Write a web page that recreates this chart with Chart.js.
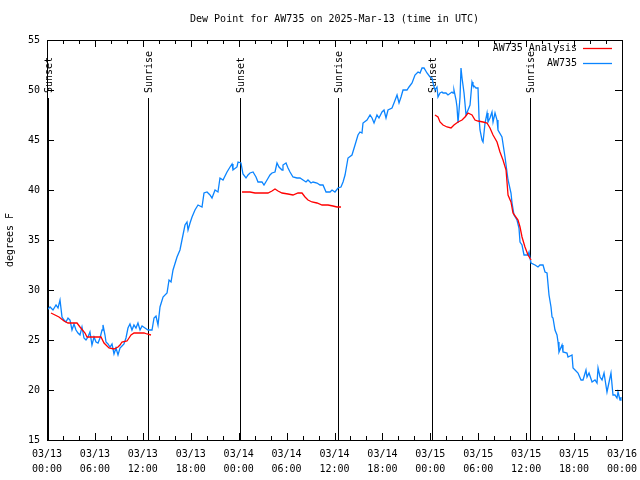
<!DOCTYPE html>
<html>
<head>
<meta charset="utf-8">
<script src="https://cdn.jsdelivr.net/npm/chart.js@4"></script>
<style>
    html, body { margin: 0; padding: 0; background: #fff; }
    #wrap { width: 640px; height: 480px; }
</style>
</head>
<body>
<div id="wrap"><canvas id="dewChart" width="640" height="480"></canvas></div>
<script>
// hours since 03/13 00:00 UTC
var obsHours = [0, 0.38, 0.75, 1.13, 1.38, 1.63, 1.88, 2.13, 2.38, 2.63, 2.88, 3.13, 3.38, 3.63, 3.88, 4.13, 4.38, 4.63, 4.88, 5.13,
    5.38, 5.63, 5.89, 6.14, 6.39, 6.64, 6.89, 7.01, 7.26, 7.39, 7.64, 7.89, 8.14, 8.39, 8.64, 8.89, 9.14, 9.39, 9.64, 9.89,
    10.14, 10.39, 10.64, 10.89, 11.14, 11.39, 11.65, 11.9, 12.27, 12.65, 13.15, 13.4, 13.65, 13.9, 14.15, 14.53, 15.03, 15.28, 15.53, 15.78,
    16.28, 16.65, 16.9, 17.28, 17.53, 17.66, 17.91, 18.16, 18.53, 18.91, 19.41, 19.66, 20.04, 20.41, 20.66, 21.04, 21.41, 21.66, 22.04, 22.54,
    22.92, 23.17, 23.29, 23.79, 23.92, 24.29, 24.54, 24.92, 25.17, 25.42, 25.8, 26.17, 26.42, 26.92, 27.17, 27.55, 27.92, 28.17, 28.55, 28.8,
    29.05, 29.43, 29.55, 29.93, 30.18, 30.43, 30.8, 31.3, 31.68, 32.06, 32.43, 32.68, 33.06, 33.31, 33.81, 34.19, 34.56, 34.94, 35.44, 35.69,
    36.06, 36.44, 36.81, 37.07, 37.32, 37.69, 38.19, 38.57, 38.94, 39.19, 39.44, 39.57, 40.07, 40.45, 40.7, 40.95, 41.32, 41.57, 41.95, 42.2,
    42.45, 42.7, 43.2, 43.45, 43.83, 44.08, 44.33, 44.58, 45.08, 45.33, 45.71, 46.08, 46.46, 46.71, 46.96, 47.21, 47.58, 47.96, 48.21, 48.34,
    48.58, 48.83, 48.96, 49.21, 49.46, 49.59, 49.96, 50.21, 50.71, 50.84, 50.96, 51.22, 51.34, 51.47, 51.72, 51.84, 51.97, 52.22, 52.47, 52.72,
    52.97, 53.22, 53.34, 53.72, 53.97, 54.1, 54.22, 54.47, 54.6, 54.85, 55.1, 55.22, 55.47, 55.72, 55.85, 56.1, 56.35, 56.47, 56.97, 57.35,
    57.73, 58.1, 58.23, 58.48, 58.85, 59.1, 59.23, 59.48, 59.73, 60.23, 60.36, 60.48, 60.61, 61.11, 61.48, 61.73, 62.11, 62.36, 62.61, 62.86,
    63.11, 63.24, 63.36, 63.61, 63.86, 63.99, 64.11, 64.49, 64.61, 65.11, 65.24, 65.74, 65.87, 66.12, 66.49, 66.87, 67.12, 67.49, 67.62, 67.87,
    68.25, 68.62, 68.87, 69.0, 69.25, 69.5, 69.75, 70.12, 70.25, 70.62, 70.87, 71.12, 71.37, 71.5, 71.75, 71.87];
var obsValues = [28.0, 28.3, 28.0, 28.5, 28.2, 29.0, 27.3, 27.0, 26.8, 27.2, 27.0, 26.0, 26.6, 26.0, 25.7, 25.5, 26.3, 25.2, 25.0, 25.3,
    25.8, 24.5, 25.3, 24.8, 24.7, 25.2, 26.0, 26.5, 25.5, 24.8, 24.6, 24.3, 24.6, 23.6, 24.2, 23.5, 24.2, 24.4, 24.6, 25.2,
    26.2, 26.6, 26.0, 26.5, 26.2, 26.7, 26.0, 26.4, 26.2, 26.0, 26.0, 27.2, 27.4, 26.5, 28.3, 29.3, 29.7, 31.0, 30.8, 32.0,
    33.3, 34.0, 35.0, 36.5, 36.8, 36.0, 36.7, 37.3, 38.0, 38.5, 38.3, 39.7, 39.8, 39.5, 39.2, 40.0, 39.8, 41.2, 41.0, 41.8,
    42.3, 42.6, 42.0, 42.3, 42.8, 42.7, 41.6, 41.2, 41.5, 41.7, 41.8, 41.3, 40.8, 40.8, 40.5, 41.0, 41.5, 41.7, 41.8, 42.7,
    42.3, 42.0, 42.5, 42.7, 42.2, 41.8, 41.3, 41.2, 41.2, 41.0, 40.8, 41.0, 40.7, 40.8, 40.7, 40.5, 40.5, 39.8, 39.8, 40.0,
    39.8, 40.2, 40.3, 40.8, 41.5, 43.2, 43.5, 44.5, 45.5, 45.8, 45.7, 46.7, 47.0, 47.5, 47.2, 46.7, 47.5, 47.2, 47.8, 48.0,
    47.2, 48.0, 48.2, 48.7, 49.5, 48.7, 49.3, 50.0, 50.0, 50.3, 50.7, 51.5, 51.8, 51.7, 52.2, 52.2, 51.7, 51.3, 51.2, 50.7,
    50.0, 50.3, 49.3, 49.7, 49.8, 49.7, 49.7, 49.5, 49.8, 49.7, 50.0, 49.0, 48.3, 46.7, 49.3, 52.2, 51.2, 49.7, 47.5, 48.0,
    48.5, 50.8, 50.5, 50.2, 50.2, 47.2, 46.0, 45.0, 44.8, 46.7, 47.7, 46.8, 47.2, 47.8, 46.8, 47.7, 47.0, 46.0, 45.3, 43.3,
    41.0, 39.7, 38.7, 37.5, 37.0, 36.2, 34.8, 34.5, 33.5, 33.5, 33.8, 33.2, 32.7, 32.5, 32.3, 32.5, 32.5, 31.8, 31.7, 29.5,
    28.3, 27.3, 27.2, 26.0, 25.5, 24.8, 23.8, 24.5, 23.8, 23.7, 23.3, 23.5, 22.2, 22.0, 21.7, 21.0, 21.0, 22.0, 21.3, 21.7,
    20.8, 21.0, 20.7, 22.2, 21.3, 21.0, 21.7, 19.8, 20.3, 21.7, 19.5, 19.5, 19.2, 19.8, 19.0, 19.3];

// analysis series, null marks a gap
var anaHours = [0.5, 1.0, 1.5, 2.13, 2.63, 3.76, 4.13, 4.76, 5.01, 6.76, 7.14, 7.76, 8.39, 8.89, 9.14, 9.39, 10.02, 10.27, 10.52, 10.9, 12.15, 12.52, 13.02,
    18.0,
    24.42, 25.42, 26.05, 26.92, 27.67, 28.17, 28.55, 28.93, 29.43, 30.18, 30.8, 31.43, 31.93, 32.31, 32.68, 33.18, 33.81, 34.44, 35.19, 35.81, 36.31, 36.81,
    42.0,
    48.58, 48.96, 49.21, 49.59, 50.09, 50.59, 50.96, 51.47, 51.97, 52.34, 52.72, 53.22, 53.59, 53.97, 54.6, 55.1, 55.47, 55.85, 56.35, 56.72,
    57.1, 57.48, 57.73, 58.1, 58.35, 58.98, 59.23, 59.48, 59.85, 60.23, 60.61];
var anaValues = [27.7, 27.5, 27.3, 26.9, 26.7, 26.7, 26.3, 25.7, 25.3, 25.3, 24.7, 24.2, 24.1, 24.3, 24.5, 24.8, 24.9, 25.2, 25.5, 25.7, 25.7, 25.6, 25.5,
    null,
    39.8, 39.8, 39.7, 39.7, 39.7, 39.9, 40.1, 39.9, 39.7, 39.6, 39.5, 39.7, 39.7, 39.3, 39.0, 38.8, 38.7, 38.5, 38.5, 38.4, 38.3, 38.3,
    null,
    47.5, 47.3, 46.8, 46.5, 46.3, 46.2, 46.5, 46.8, 47.0, 47.3, 47.7, 47.5, 47.0, 46.9, 46.8, 46.7, 46.2, 45.5, 44.8, 43.8,
    43.0, 42.0, 39.5, 38.8, 37.7, 37.0, 36.3, 35.3, 34.3, 33.5, 33.0];

var sunHours = [0.12, 12.65, 24.17, 36.44, 48.21, 60.48];
var sunLabels = ["Sunset", "Sunrise", "Sunset", "Sunrise", "Sunset", "Sunrise"];
var dayLabels = ["03/13", "03/14", "03/15", "03/16"];
var titleText = "Dew Point for AW735 on 2025-Mar-13 (time in UTC)";

var fontFamily = "'DejaVu Sans Mono', monospace";
var obsColor = "#0a84ff";
var anaColor = "#ff0000";
var dewChart;

function toPoints(xs, ys) {
    let pts = [];
    for (let i = 0; i < xs.length; i++) pts.push({ x: xs[i], y: ys[i] });
    return pts;
}

// gnuplot style frame, inward ticks, sun lines, title and legend
var gnuFrame = {
    id: "gnuFrame",
    beforeDatasetsDraw: function (chart) {
        let ctx = chart.ctx;
        let a = chart.chartArea;
        let xs = chart.scales.x;
        ctx.save();
        ctx.strokeStyle = "#000";
        ctx.lineWidth = 1;
        ctx.fillStyle = "#000";
        ctx.font = "10px " + fontFamily;
        for (let i = 0; i < sunHours.length; i++) {
            let px = Math.round(xs.getPixelForValue(sunHours[i])) + 0.5;
            ctx.beginPath();
            ctx.moveTo(px, 98);
            ctx.lineTo(px, a.bottom);
            ctx.stroke();
            ctx.save();
            ctx.translate(px + 1, 93);
            ctx.rotate(-Math.PI / 2);
            ctx.textAlign = "left";
            ctx.textBaseline = "middle";
            ctx.fillText(sunLabels[i], 0, 0);
            ctx.restore();
        }
        ctx.restore();
    },
    afterDraw: function (chart) {
        let ctx = chart.ctx;
        let a = chart.chartArea;
        let xs = chart.scales.x;
        let ys = chart.scales.y;
        ctx.save();

        // title centred over the plot area
        ctx.fillStyle = "#000";
        ctx.font = "10px " + fontFamily;
        ctx.textAlign = "center";
        ctx.textBaseline = "middle";
        ctx.fillText(titleText, (a.left + a.right) / 2, 19);

        ctx.strokeStyle = "#000";
        ctx.lineWidth = 1;
        ctx.strokeRect(Math.round(a.left) + 0.5, Math.round(a.top) + 0.5, Math.round(a.right - a.left), Math.round(a.bottom - a.top));
        ctx.beginPath();
        xs.ticks.forEach(function (t) {
            let px = Math.round(xs.getPixelForValue(t.value)) + 0.5;
            let len = t.value % 6 === 0 ? 7 : 4;
            ctx.moveTo(px, a.bottom);
            ctx.lineTo(px, a.bottom - len);
            ctx.moveTo(px, a.top);
            ctx.lineTo(px, a.top + len);
        });
        ys.ticks.forEach(function (t) {
            let py = Math.round(ys.getPixelForValue(t.value)) + 0.5;
            ctx.moveTo(a.left, py);
            ctx.lineTo(a.left + 7, py);
            ctx.moveTo(a.right, py);
            ctx.lineTo(a.right - 7, py);
        });
        ctx.stroke();

        // legend, text on the left of the sample line
        let items = chart.data.datasets;
        ctx.textAlign = "right";
        for (let i = 0; i < items.length; i++) {
            let y = 48 + i * 15;
            ctx.fillStyle = "#000";
            ctx.fillText(items[i].label, 577, y);
            ctx.strokeStyle = items[i].borderColor;
            ctx.lineWidth = 1.3;
            ctx.beginPath();
            ctx.moveTo(583, y + 0.5);
            ctx.lineTo(612, y + 0.5);
            ctx.stroke();
        }
        ctx.restore();
    },
};

function mainChart() {
    let config_line = {
        type: "line",
        data: {
            datasets: [
                {
                    label: "AW735 Analysis",
                    data: toPoints(anaHours, anaValues),
                    borderColor: anaColor,
                    backgroundColor: anaColor,
                    borderWidth: 1.3,
                    pointRadius: 0,
                    tension: 0,
                    spanGaps: false,
                },
                {
                    label: "AW735",
                    data: toPoints(obsHours, obsValues),
                    borderColor: obsColor,
                    backgroundColor: obsColor,
                    borderWidth: 1.3,
                    pointRadius: 0,
                    tension: 0,
                },
            ],
        },
        options: {
            responsive: false,
            animation: false,
            layout: {
                padding: { left: 0, right: 18, top: 40, bottom: 0 },
            },
            scales: {
                x: {
                    type: "linear",
                    min: 0,
                    max: 72,
                    grid: { display: false, drawTicks: false },
                    border: { display: false },
                    afterFit: function (scale) {
                        scale.height = 40;
                        scale.paddingLeft = 0;
                        scale.paddingRight = 0;
                    },
                    ticks: {
                        stepSize: 2,
                        autoSkip: false,
                        maxRotation: 0,
                        padding: 7,
                        color: "#000",
                        font: { family: fontFamily, size: 10, lineHeight: 1.5 },
                        callback: function (value) {
                            if (value % 6 !== 0) return "";
                            let day = dayLabels[Math.floor(value / 24)];
                            let hh = value % 24;
                            return [day, (hh < 10 ? "0" : "") + hh + ":00"];
                        },
                    },
                },
                y: {
                    min: 15,
                    max: 55,
                    grid: { display: false, drawTicks: false },
                    border: { display: false },
                    afterFit: function (scale) {
                        scale.width = 47;
                        scale.paddingTop = 0;
                        scale.paddingBottom = 0;
                    },
                    title: {
                        display: true,
                        text: "degrees F",
                        color: "#000",
                        padding: { top: 4, bottom: 0 },
                        font: { family: fontFamily, size: 10 },
                    },
                    ticks: {
                        stepSize: 5,
                        padding: 7,
                        color: "#000",
                        font: { family: fontFamily, size: 10 },
                    },
                },
            },
            plugins: {
                legend: { display: false },
                tooltip: { enabled: false },
            },
        },
        plugins: [gnuFrame],
    };

    dewChart = new Chart("dewChart", config_line);
}

mainChart();
</script>
</body>
</html>
